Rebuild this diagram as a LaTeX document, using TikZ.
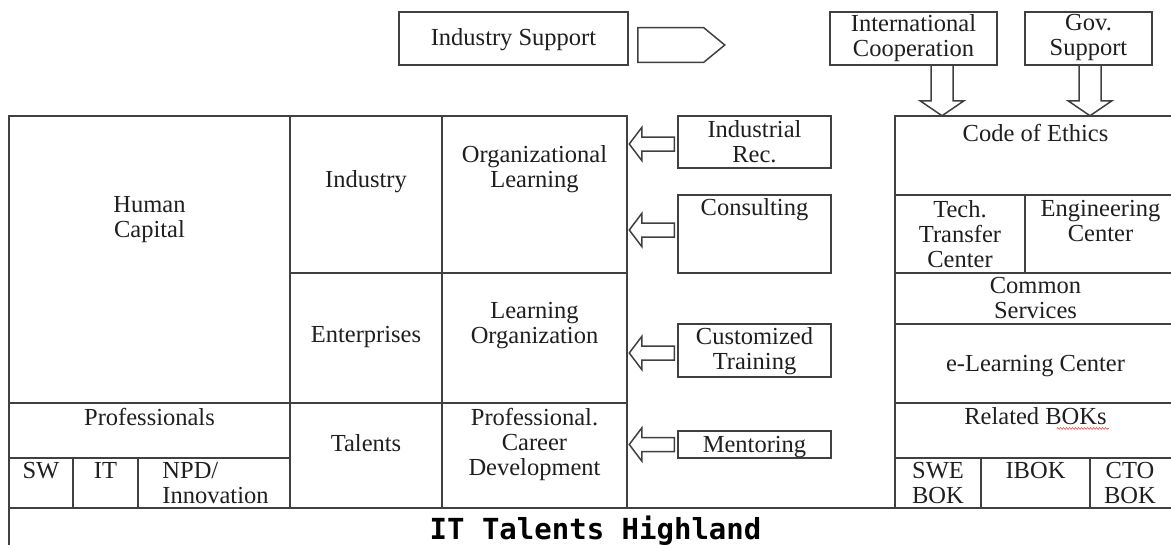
\documentclass[tikz,border=0pt]{standalone}
\usepackage{fontspec}
\setmainfont{Liberation Serif}
\newfontfamily\titlefont{DejaVu Sans Mono}
\usetikzlibrary{calc,fit,decorations.pathmorphing}

% a ruled cell given by its top-left and bottom-right corners
\newcommand\boxcell[5]{%
  \coordinate (#1-a) at (#2,#3);
  \coordinate (#1-b) at (#4,#5);
  \node[cellbox, fit=(#1-a)(#1-b)] (#1) {};}

\begin{document}
\begin{tikzpicture}[x=1pt,y=-1pt,
  rule/.style={draw=black!75, line width=1.5pt, line join=miter},
  cellbox/.style={rule, rectangle, inner sep=0pt},
  lbl/.style={inner sep=0pt, anchor=north, align=center,
    font=\fontsize{24.5}{25}\selectfont, text=black!88},
  pics/leftblock/.style={code={
    \draw[rule] (0,0) -- (12.5,-16.5) -- (12.5,-7) -- (45,-7)
      -- (45,7) -- (12.5,7) -- (12.5,16.5) -- cycle;}},
  pics/downblock/.style={code={
    \draw[rule] (-11,0) -- (-11,35) -- (-22,35) -- (0,50)
      -- (22,35) -- (11,35) -- (11,0);}},
  pics/pentagon/.style={code={
    \draw[rule] (0,0) -- (66,0) -- (87,17.3) -- (66,34.6) -- (0,34.6) -- cycle;}},
]
\useasboundingbox (0,0) rectangle (1171,544);

% ---- supporting boxes along the top ----
\boxcell{isup}{399}{12}{628}{65}
\boxcell{intl}{830}{12}{997}{65}
\boxcell{gov}{1025}{12}{1152}{65}
\node[lbl] (t-isup) at ($(isup.north)+(0,17)$) {Industry Support};
\node[lbl] (t-intl) at ($(intl.north)+(0,3)$) {International\\Cooperation};
\node[lbl] (t-gov) at ($(gov.north)+(0,3)$) {Gov.\\Support};

% ---- left structure ----
\boxcell{hc}{9}{116}{290}{403}
\boxcell{prof}{9}{403}{290}{458}
\boxcell{sw}{9}{458}{73}{508}
\boxcell{it}{73}{458}{138}{508}
\boxcell{npd}{138}{458}{290}{508}
\boxcell{ind}{290}{116}{442}{273}
\boxcell{ent}{290}{273}{442}{403}
\boxcell{tal}{290}{403}{442}{508}
\boxcell{orgl}{442}{116}{627}{273}
\boxcell{lorg}{442}{273}{627}{403}
\boxcell{pcd}{442}{403}{627}{508}

\node[lbl] (t-hc) at ($(hc.north)+(0,81)$) {Human\\Capital};
\node[lbl] (t-prof) at ($(prof.north)+(0,6)$) {Professionals};
\node[lbl] (t-sw) at ($(sw.north)+(0,5)$) {SW};
\node[lbl] (t-it) at ($(it.north)+(0,5)$) {IT};
\node[lbl, anchor=north west, align=left] (t-npd) at ($(npd.north west)+(25,5)$) {NPD/\\Innovation};
\node[lbl] (t-ind) at ($(ind.north)+(0,55)$) {Industry};
\node[lbl] (t-ent) at ($(ent.north)+(0,54)$) {Enterprises};
\node[lbl] (t-tal) at ($(tal.north)+(0,32)$) {Talents};
\node[lbl] (t-orgl) at ($(orgl.north)+(0,30)$) {Organizational\\Learning};
\node[lbl] (t-lorg) at ($(lorg.north)+(0,30)$) {Learning\\Organization};
\node[lbl] (t-pcd) at ($(pcd.north)+(0,6)$) {Professional.\\Career\\Development};

% ---- services feeding the organisation ----
\boxcell{rec}{678}{116}{831}{168}
\boxcell{cons}{678}{195}{831}{273}
\boxcell{cust}{678}{324}{831}{377}
\boxcell{ment}{678}{431}{831}{458}
\node[lbl] (t-rec) at ($(rec.north)+(0,5)$) {Industrial\\Rec.};
\node[lbl] (t-cons) at ($(cons.north)+(0,4)$) {Consulting};
\node[lbl] (t-cust) at ($(cust.north)+(0,4)$) {Customized\\Training};
\node[lbl] (t-ment) at ($(ment.north)+(0,6)$) {Mentoring};

\pic at ($(rec.west)+(-48,2)$) {leftblock};
\pic at ($(cons.west)+(-48,-4)$) {leftblock};
\pic at ($(cust.west)+(-48,2.5)$) {leftblock};
\pic at ($(ment.west)+(-48,0)$) {leftblock};

% ---- right structure ----
\boxcell{ethics}{895}{116}{1176}{195}
\boxcell{ttc}{895}{195}{1025}{273}
\boxcell{eng}{1025}{195}{1176}{273}
\boxcell{cs}{895}{273}{1176}{324}
\boxcell{elc}{895}{324}{1176}{403}
\boxcell{rbok}{895}{403}{1176}{458}
\boxcell{swe}{895}{458}{981}{508}
\boxcell{ibok}{981}{458}{1090}{508}
\boxcell{cto}{1090}{458}{1176}{508}

\node[lbl] (t-ethics) at ($(ethics.north)+(0,9)$) {Code of Ethics};
\node[lbl] (t-ttc) at ($(ttc.north)+(0,6)$) {Tech.\\Transfer\\Center};
\node[lbl] (t-eng) at ($(eng.north)+(0,6)$) {Engineering\\Center};
\node[lbl] (t-cs) at ($(cs.north)+(0,5)$) {Common\\Services};
\node[lbl] (t-elc) at ($(elc.north)+(0,32)$) {e-Learning Center};
\node[lbl] (t-rbok) at ($(rbok.north)+(0,5)$) {Related BOKs};
\node[lbl] (t-swe) at ($(swe.north)+(0,5)$) {SWE\\BOK};
\node[lbl] (t-ibok) at ($(ibok.north)+(0,5)$) {IBOK};
\node[lbl] (t-cto) at ($(cto.north)+(-3,5)$) {CTO\\BOK};
\draw[red!70, line width=0.6pt, decorate,
  decoration={zigzag, segment length=3pt, amplitude=0.9pt}]
  ($(t-rbok.base east)+(-50,4)$) -- ($(t-rbok.base east)+(2,4)$);

% ---- arrows from the top boxes ----
\pic at ($(isup.east)+(9,-10.8)$) {pentagon};
\pic at ($(intl.south)+(28.5,0)$) {downblock};
\pic at ($(gov.south)+(1.5,0)$) {downblock};

% ---- base band ----
\boxcell{band}{9}{508}{1176}{560}
\node[anchor=base, inner sep=0pt, text=black,
  font=\titlefont\bfseries\fontsize{29}{29}\selectfont]
  (title) at ($(band.north)+(3,32)$) {IT Talents Highland};
\end{tikzpicture}
\end{document}
